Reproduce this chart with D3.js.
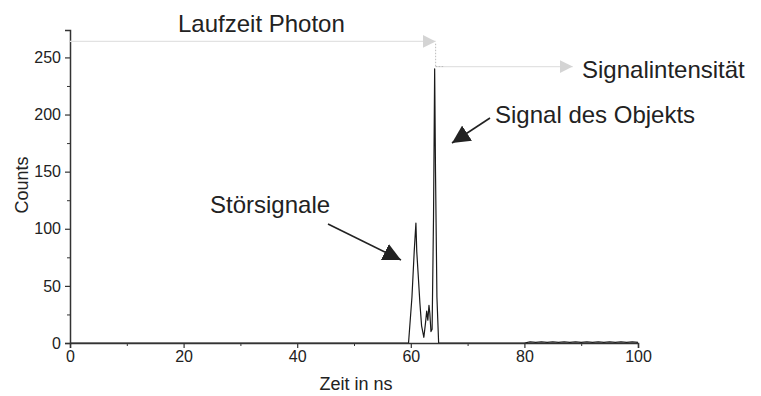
<!DOCTYPE html>
<html><head><meta charset="utf-8">
<script src="https://cdn.jsdelivr.net/npm/d3@7"></script>
<style>
body{margin:0;background:#fff;}
svg{font-family:"Liberation Sans",Arial,sans-serif;}
</style></head>
<body>
<svg id="c" width="761" height="396"></svg>
<script>
// Data: time (ns) and counts
const times  = [0, 10, 20, 30, 40, 50, 59.0, 59.6, 60.2, 60.6, 60.9, 61.05, 61.3, 61.6, 61.9, 62.3, 62.6, 62.8, 63.0, 63.2, 63.35, 63.55, 63.75, 64.0, 64.2, 64.35, 64.6, 64.9, 65.5, 70, 80, 81, 82, 83, 84, 85, 86, 87, 88, 89, 90, 91, 92, 93, 94, 95, 96, 97, 98, 99, 100];
const counts = [0, 0, 0, 0, 0, 0, 0, 0, 40, 80, 105, 80, 60, 35, 15, 5, 18, 28, 20, 33, 26, 10, 12, 110, 240, 150, 40, 0, 0, 0, 0, 1, 0.5, 1, 0.5, 1, 0.5, 1, 0.5, 1, 0.5, 1, 0.5, 1, 0.5, 1, 0.5, 1, 0.5, 1, 0.5];
const xTicks = [0, 20, 40, 60, 80, 100];
const xMinor = [10, 30, 50, 70, 90];
const yTicks = [0, 50, 100, 150, 200, 250];
const yMinor = [25, 75, 125, 175, 225];
const peakTime = 64.2, peakCount = 240;
const labels = {x: "Zeit in ns", y: "Counts", run: "Laufzeit Photon", intens: "Signalintensität", obj: "Signal des Objekts", noise: "Störsignale"};

const svg = d3.select("#c");
const x = d3.scaleLinear().domain([0, 100]).range([70, 638]);
const y = d3.scaleLinear().domain([0, 274]).range([343, 30]);
const axisColor = "#333";

// minor ticks
svg.append("g").attr("transform", `translate(0,${y(0)})`)
  .call(d3.axisBottom(x).tickValues(xMinor).tickSize(3).tickFormat(""))
  .call(g => g.select(".domain").remove())
  .call(g => g.selectAll("line").attr("stroke", axisColor));
svg.append("g").attr("transform", `translate(${x(0)},0)`)
  .call(d3.axisLeft(y).tickValues(yMinor).tickSize(3).tickFormat(""))
  .call(g => g.select(".domain").remove())
  .call(g => g.selectAll("line").attr("stroke", axisColor));

// data line
const line = d3.line().x((d, i) => x(times[i])).y((d, i) => y(counts[i]));
svg.append("path").datum(counts).attr("d", line)
  .attr("fill", "none").attr("stroke", "#1a1a1a").attr("stroke-width", 1.2).attr("stroke-linejoin", "round");

// axes
const xa = svg.append("g").attr("transform", `translate(0,${y(0)})`)
  .call(d3.axisBottom(x).tickValues(xTicks).tickSize(5).tickSizeOuter(5).tickPadding(3));
const ya = svg.append("g").attr("transform", `translate(${x(0)},0)`)
  .call(d3.axisLeft(y).tickValues(yTicks).tickSize(5).tickSizeOuter(5).tickPadding(4));
[xa, ya].forEach(g => {
  g.select(".domain").attr("stroke", axisColor).attr("stroke-width", 1.5);
  g.selectAll(".tick line").attr("stroke", axisColor).attr("stroke-width", 1.2);
  g.selectAll("text").attr("font-size", 16).attr("fill", "#222").attr("font-family", "Liberation Sans, Arial, sans-serif");
});

// axis titles
svg.append("text").attr("x", 356).attr("y", 390).attr("text-anchor", "middle")
  .attr("font-size", 18).attr("fill", "#222").text(labels.x);
svg.append("text").attr("transform", `translate(28,185) rotate(-90)`).attr("text-anchor", "middle")
  .attr("font-size", 18).attr("fill", "#222").text(labels.y);

// defs for arrowheads
const defs = svg.append("defs");
defs.append("marker").attr("id", "grayHead").attr("viewBox", "0 0 10 10").attr("refX", 10).attr("refY", 5)
  .attr("markerUnits", "userSpaceOnUse").attr("markerWidth", 13).attr("markerHeight", 13).attr("orient", "auto")
  .append("path").attr("d", "M0,0 L10,5 L0,10 Z").attr("fill", "#d4d4d4");
defs.append("marker").attr("id", "blackHead").attr("viewBox", "0 0 10 10").attr("refX", 10).attr("refY", 5)
  .attr("markerUnits", "userSpaceOnUse").attr("markerWidth", 18).attr("markerHeight", 18).attr("orient", "auto")
  .append("path").attr("d", "M0,0 L10,5 L0,10 Z").attr("fill", "#222");

// "Laufzeit Photon" arrow (time of flight)
svg.append("line").attr("x1", x(0)).attr("y1", y(264)).attr("x2", x(peakTime) + 1).attr("y2", y(264))
  .attr("stroke", "#e2e2e2").attr("stroke-width", 1.2).attr("marker-end", "url(#grayHead)");
svg.append("text").attr("x", 178).attr("y", 32)
  .attr("font-size", 24).attr("fill", "#222").text(labels.run);

// dotted vertical from time arrow to intensity level
svg.append("line").attr("x1", x(peakTime) + 1).attr("y1", y(262)).attr("x2", x(peakTime) + 1).attr("y2", y(peakCount + 2))
  .attr("stroke", "#bbb").attr("stroke-width", 1).attr("stroke-dasharray", "1.5,1.5");

// "Signalintensität" arrow
svg.append("line").attr("x1", x(peakTime) + 1).attr("y1", y(peakCount + 2)).attr("x2", x(88.5)).attr("y2", y(peakCount + 2))
  .attr("stroke", "#e2e2e2").attr("stroke-width", 1.2).attr("marker-end", "url(#grayHead)");
svg.append("line").attr("x1", x(peakTime) + 1).attr("y1", y(peakCount + 2)).attr("x2", x(peakTime) + 9).attr("y2", y(peakCount + 2))
  .attr("stroke", "#bbb").attr("stroke-width", 1).attr("stroke-dasharray", "1.5,1.5");
svg.append("text").attr("x", 582).attr("y", 78).attr("font-size", 24).attr("fill", "#222").text(labels.intens);

// "Signal des Objekts"
svg.append("text").attr("x", 495).attr("y", 123).attr("font-size", 24).attr("fill", "#222").text(labels.obj);
svg.append("line").attr("x1", 490).attr("y1", 118).attr("x2", 452).attr("y2", 143)
  .attr("stroke", "#222").attr("stroke-width", 1.6).attr("marker-end", "url(#blackHead)");

// "Störsignale"
svg.append("text").attr("x", 210).attr("y", 213).attr("font-size", 24).attr("fill", "#222").text(labels.noise);
svg.append("line").attr("x1", 328).attr("y1", 224).attr("x2", 401).attr("y2", 260)
  .attr("stroke", "#222").attr("stroke-width", 1.6).attr("marker-end", "url(#blackHead)");
</script>
</body></html>
